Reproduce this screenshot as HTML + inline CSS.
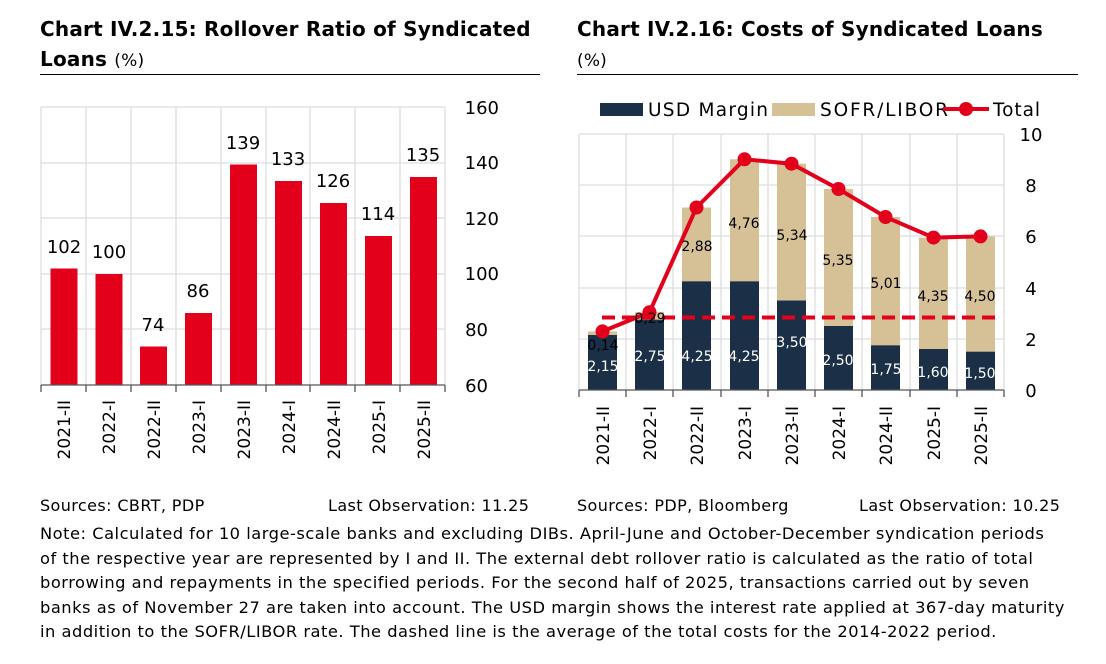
<!DOCTYPE html>
<html><head><style>
body{margin:0;width:1106px;height:664px;background:#fff;font-family:"DejaVu Sans","Liberation Sans",sans-serif;color:#000;overflow:hidden;position:relative}
.t{position:absolute;font-weight:bold;font-size:20px;line-height:30px;white-space:nowrap;letter-spacing:0.2px}
.t span{font-weight:normal;font-size:17px}
.rule{position:absolute;height:1px;background:#000;top:74px}
.s{position:absolute;font-size:16px;top:496px;white-space:nowrap;letter-spacing:0.4px}
.note{position:absolute;left:40px;top:522px;font-size:16.3px;line-height:24.5px;white-space:nowrap;letter-spacing:0.5px}
</style></head><body>
<div class="t" style="left:40px;top:14px">Chart IV.2.15: Rollover Ratio of Syndicated<br>Loans <span>(%)</span></div>
<div class="rule" style="left:40px;width:500px"></div>
<div class="t" style="left:577px;top:14px">Chart IV.2.16: Costs of Syndicated Loans<br><span>(%)</span></div>
<div class="rule" style="left:577px;width:501px"></div>
<svg width="1106" height="664" style="position:absolute;left:0;top:0" font-family="DejaVu Sans,Liberation Sans,sans-serif">
<g stroke="#ddd" stroke-width="1.3">
<line x1="41" y1="107" x2="445" y2="107"/><line x1="41" y1="163" x2="445" y2="163"/><line x1="41" y1="218" x2="445" y2="218"/><line x1="41" y1="274" x2="445" y2="274"/><line x1="41" y1="329" x2="445" y2="329"/>
<line x1="41" y1="107" x2="41" y2="385"/><line x1="86" y1="107" x2="86" y2="385"/><line x1="131" y1="107" x2="131" y2="385"/><line x1="176" y1="107" x2="176" y2="385"/><line x1="221" y1="107" x2="221" y2="385"/><line x1="266" y1="107" x2="266" y2="385"/><line x1="310" y1="107" x2="310" y2="385"/><line x1="355" y1="107" x2="355" y2="385"/><line x1="400" y1="107" x2="400" y2="385"/><line x1="445" y1="107" x2="445" y2="385"/>
</g>
<g fill="#e3001b">
<rect x="50.5" y="268.5" width="27" height="116.5"/><rect x="95.5" y="274" width="27" height="111"/><rect x="140" y="346.5" width="27" height="38.5"/><rect x="185" y="313" width="27" height="72"/><rect x="230" y="164.5" width="27" height="220.5"/><rect x="275" y="181" width="27" height="204"/><rect x="320" y="203" width="27" height="182"/><rect x="365" y="236" width="27" height="149"/><rect x="410" y="177" width="27" height="208"/>
</g>
<g font-size="18" text-anchor="middle">
<text x="64" y="253">102</text><text x="109" y="258">100</text><text x="153" y="331">74</text><text x="198" y="297">86</text><text x="243" y="149">139</text><text x="288" y="165">133</text><text x="333" y="187">126</text><text x="378" y="220">114</text><text x="423" y="161">135</text>
</g>
<g stroke="#555" stroke-width="1.3"><line x1="41" y1="385" x2="445" y2="385"/>
<line x1="41" y1="385" x2="41" y2="392"/><line x1="86" y1="385" x2="86" y2="392"/><line x1="131" y1="385" x2="131" y2="392"/><line x1="176" y1="385" x2="176" y2="392"/><line x1="221" y1="385" x2="221" y2="392"/><line x1="266" y1="385" x2="266" y2="392"/><line x1="310" y1="385" x2="310" y2="392"/><line x1="355" y1="385" x2="355" y2="392"/><line x1="400" y1="385" x2="400" y2="392"/><line x1="445" y1="385" x2="445" y2="392"/></g>
<g font-size="18" text-anchor="end">
<text x="499" y="114">160</text><text x="499" y="169">140</text><text x="499" y="225">120</text><text x="499" y="280">100</text><text x="488" y="336">80</text><text x="488" y="392">60</text>
</g>
<g font-size="17" text-anchor="end">
<text transform="translate(70,400) rotate(-90)">2021-II</text><text transform="translate(115,400) rotate(-90)">2022-I</text><text transform="translate(160,400) rotate(-90)">2022-II</text><text transform="translate(205,400) rotate(-90)">2023-I</text><text transform="translate(250,400) rotate(-90)">2023-II</text><text transform="translate(295,400) rotate(-90)">2024-I</text><text transform="translate(340,400) rotate(-90)">2024-II</text><text transform="translate(385,400) rotate(-90)">2025-I</text><text transform="translate(430,400) rotate(-90)">2025-II</text>
</g>

<g stroke="#ddd" stroke-width="1.3">
<line x1="579" y1="134" x2="1004" y2="134"/><line x1="579" y1="185" x2="1004" y2="185"/><line x1="579" y1="236" x2="1004" y2="236"/><line x1="579" y1="288" x2="1004" y2="288"/><line x1="579" y1="339" x2="1004" y2="339"/>
<line x1="579" y1="134" x2="579" y2="390"/><line x1="626" y1="134" x2="626" y2="390"/><line x1="673" y1="134" x2="673" y2="390"/><line x1="721" y1="134" x2="721" y2="390"/><line x1="768" y1="134" x2="768" y2="390"/><line x1="815" y1="134" x2="815" y2="390"/><line x1="862" y1="134" x2="862" y2="390"/><line x1="910" y1="134" x2="910" y2="390"/><line x1="957" y1="134" x2="957" y2="390"/><line x1="1004" y1="134" x2="1004" y2="390"/>
</g>
<g fill="#1b2f47">
<rect x="588" y="335" width="29" height="55"/><rect x="635" y="319.6" width="29" height="70.4"/><rect x="682" y="281.2" width="29" height="108.8"/><rect x="730" y="281.2" width="29" height="108.8"/><rect x="777" y="300.4" width="29" height="89.6"/><rect x="824" y="326" width="29" height="64"/><rect x="871" y="345.2" width="29" height="44.8"/><rect x="919" y="349" width="29" height="41"/><rect x="966" y="351.6" width="29" height="38.4"/>
</g>
<g fill="#d6c096">
<rect x="588" y="331.4" width="29" height="3.6"/><rect x="635" y="312.2" width="29" height="7.4"/><rect x="682" y="207.5" width="29" height="73.7"/><rect x="730" y="159.3" width="29" height="121.9"/><rect x="777" y="163.7" width="29" height="136.7"/><rect x="824" y="189" width="29" height="137"/><rect x="871" y="217" width="29" height="128.2"/><rect x="919" y="237.6" width="29" height="111.4"/><rect x="966" y="236.4" width="29" height="115.2"/>
</g>
<line x1="602" y1="317.5" x2="997" y2="317.5" stroke="#e3001b" stroke-width="4" stroke-dasharray="13,7"/>
<polyline fill="none" stroke="#e3001b" stroke-width="4" points="602.5,331.4 649.5,312.2 696.5,207.5 744.5,159.3 791.5,163.7 838.5,189 885.5,217 933.5,237.6 980.5,236.4"/>
<g fill="#e3001b"><circle cx="602.5" cy="331.4" r="7"/><circle cx="649.5" cy="312.2" r="7"/><circle cx="696.5" cy="207.5" r="7"/><circle cx="744.5" cy="159.3" r="7"/><circle cx="791.5" cy="163.7" r="7"/><circle cx="838.5" cy="189" r="7"/><circle cx="885.5" cy="217" r="7"/><circle cx="933.5" cy="237.6" r="7"/><circle cx="980.5" cy="236.4" r="7"/></g>
<g font-size="14" text-anchor="middle">
<text x="603" y="350">0,14</text><text x="650" y="323">0,29</text><text x="697" y="251">2,88</text><text x="744" y="228">4,76</text><text x="792" y="240">5,34</text><text x="838" y="265">5,35</text><text x="886" y="288">5,01</text><text x="933" y="301">4,35</text><text x="980" y="301">4,50</text>
</g>
<g font-size="14" text-anchor="middle" fill="#fff">
<text x="603" y="371">2,15</text><text x="650" y="361">2,75</text><text x="697" y="361">4,25</text><text x="744" y="361">4,25</text><text x="792" y="347">3,50</text><text x="838" y="365">2,50</text><text x="886" y="374">1,75</text><text x="933" y="377">1,60</text><text x="980" y="378">1,50</text>
</g>
<g stroke="#555" stroke-width="1.3"><line x1="579" y1="390" x2="1004" y2="390"/>
<line x1="579" y1="390" x2="579" y2="397"/><line x1="626" y1="390" x2="626" y2="397"/><line x1="673" y1="390" x2="673" y2="397"/><line x1="721" y1="390" x2="721" y2="397"/><line x1="768" y1="390" x2="768" y2="397"/><line x1="815" y1="390" x2="815" y2="397"/><line x1="862" y1="390" x2="862" y2="397"/><line x1="910" y1="390" x2="910" y2="397"/><line x1="957" y1="390" x2="957" y2="397"/><line x1="1004" y1="390" x2="1004" y2="397"/></g>
<g font-size="18" text-anchor="middle">
<text x="1031" y="141">10</text><text x="1031" y="192">8</text><text x="1031" y="243">6</text><text x="1031" y="295">4</text><text x="1031" y="346">2</text><text x="1031" y="397">0</text>
</g>
<g font-size="17" text-anchor="end">
<text transform="translate(609,406) rotate(-90)">2021-II</text><text transform="translate(656,406) rotate(-90)">2022-I</text><text transform="translate(703,406) rotate(-90)">2022-II</text><text transform="translate(751,406) rotate(-90)">2023-I</text><text transform="translate(798,406) rotate(-90)">2023-II</text><text transform="translate(845,406) rotate(-90)">2024-I</text><text transform="translate(892,406) rotate(-90)">2024-II</text><text transform="translate(940,406) rotate(-90)">2025-I</text><text transform="translate(987,406) rotate(-90)">2025-II</text>
</g>
<rect x="600" y="103" width="43" height="13" fill="#1b2f47"/>
<text x="648" y="116" font-size="18.5" textLength="120">USD Margin</text>
<rect x="772" y="103" width="43" height="13" fill="#d6c096"/>
<text x="820" y="116" font-size="18.5" textLength="128">SOFR/LIBOR</text>
<line x1="943" y1="109" x2="989" y2="109" stroke="#e3001b" stroke-width="4"/>
<circle cx="966" cy="109" r="7" fill="#e3001b"/>
<text x="993" y="116" font-size="18.5" textLength="47">Total</text>
</svg>
<div class="s" style="left:40px">Sources: CBRT, PDP</div>
<div class="s" style="left:328px">Last Observation: 11.25</div>
<div class="s" style="left:577px">Sources: PDP, Bloomberg</div>
<div class="s" style="left:859px">Last Observation: 10.25</div>
<div class="note">Note: Calculated for 10 large-scale banks and excluding DIBs. April-June and October-December syndication periods<br>of the respective year are represented by I and II. The external debt rollover ratio is calculated as the ratio of total<br>borrowing and repayments in the specified periods. For the second half of 2025, transactions carried out by seven<br>banks as of November 27 are taken into account. The USD margin shows the interest rate applied at 367-day maturity<br>in addition to the SOFR/LIBOR rate. The dashed line is the average of the total costs for the 2014-2022 period.</div>
</body></html>
